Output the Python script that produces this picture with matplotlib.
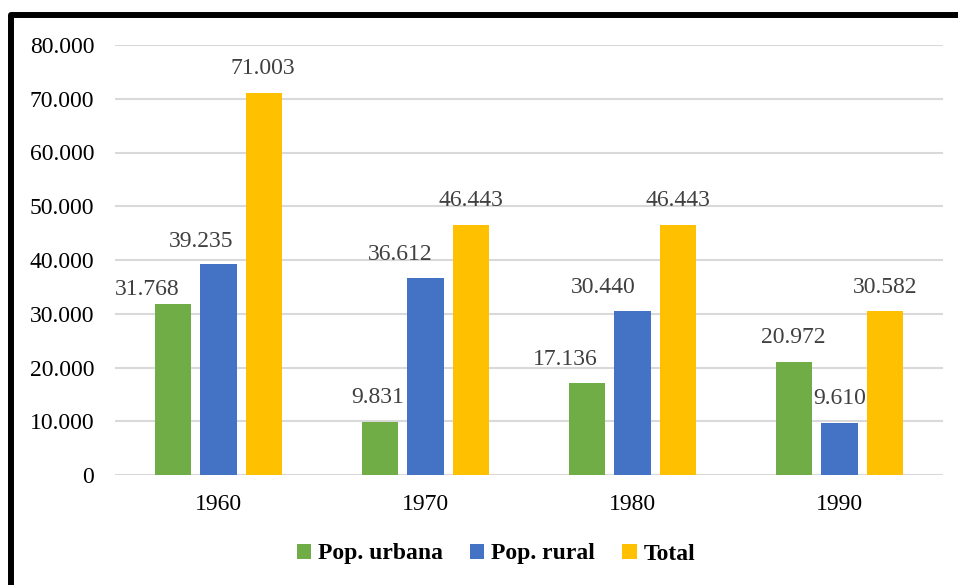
import matplotlib.pyplot as plt
import matplotlib.patches as mpatches
import numpy as np

plt.rcParams['font.family'] = ['Liberation Serif', 'DejaVu Serif']

years = ['1960', '1970', '1980', '1990']
urbana = [31768, 9831, 17136, 20972]
rural = [39235, 36612, 30440, 9610]
total = [71003, 46443, 46443, 30582]
yticks = [0, 10000, 20000, 30000, 40000, 50000, 60000, 70000, 80000]
ytick_labels = ['0', '10.000', '20.000', '30.000', '40.000', '50.000',
                '60.000', '70.000', '80.000']

series = [
  ('Pop. urbana', urbana, '#70ad47'),
  ('Pop. rural', rural, '#4472c4'),
  ('Total', total, '#ffc000'),
]

# label nudges (px) where the labels were dragged around in the original
nudges = [
  [(-25, 15), (-2, 25), (-21, 23), (0, 25)],
  [(-17, 23), (-25, 24), (-29, 24), (0, 25)],
  [(-2, 25), (-1, 25), (-1, 25), (0, 23)],
]

def fmt(v):
  return f'{v:,}'.replace(',', '.')

fig = plt.figure(figsize=(9.58, 5.85), dpi=100)
ax = fig.add_axes([115/958, 110/585, 828/958, 430/585])

x = np.arange(len(years))
width = 0.174
pitch = 0.222
for k, (name, vals, color) in enumerate(series):
  pos = x + (k - 1) * pitch
  ax.bar(pos, vals, width=width, color=color, zorder=3, label=name)
  for i, v in enumerate(vals):
    dx, dy = nudges[k][i]
    ax.annotate(fmt(v), xy=(pos[i], v), xytext=(dx * 0.72, dy * 0.72),
                textcoords='offset points', ha='center', va='center',
                fontsize=17, color='#404040', zorder=4)

ax.set_xlim(-0.5, 3.5)
ax.set_ylim(0, 80000)
ax.set_yticks(yticks)
ax.set_yticklabels(ytick_labels)
ax.set_xticks(x)
ax.set_xticklabels(years)
ax.tick_params(axis='both', length=0, labelsize=17, colors='black')
ax.tick_params(axis='y', pad=15)
ax.tick_params(axis='x', pad=14)
ax.grid(axis='y', color='#d9d9d9', linewidth=1.5, zorder=0)
for s in ax.spines.values():
  s.set_visible(False)

leg = fig.legend(loc='center', bbox_to_anchor=(496/958, (585-554)/585), ncol=3,
                 frameon=False, handlelength=0.6, handleheight=0.6,
                 handletextpad=0.3, columnspacing=1.15,
                 prop={'weight': 'bold', 'size': 17})

# black frame around the chart (right and bottom edges fall outside the image)
frame = mpatches.Rectangle((11/958, -0.2), 1.2, 0.2 + (585-15)/585,
                           transform=fig.transFigure, fill=False,
                           edgecolor='black', linewidth=4.3, joinstyle='round')
fig.patches.append(frame)

plt.savefig('out.png', dpi=100)
